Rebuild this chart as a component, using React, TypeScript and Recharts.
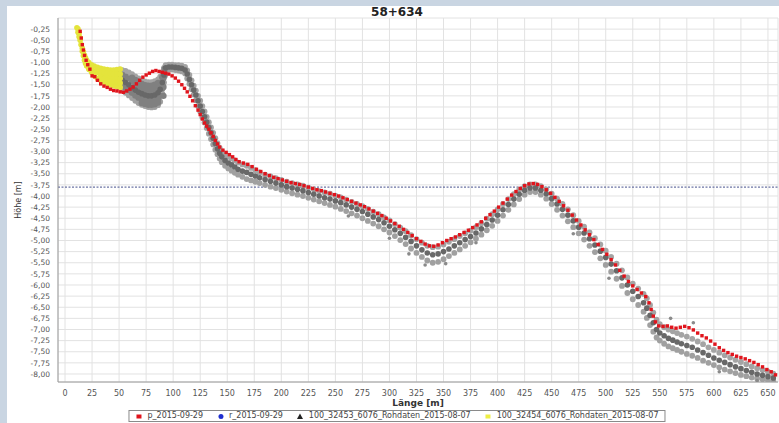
import React from 'react';
import { ScatterChart, Scatter, XAxis, YAxis, CartesianGrid, ReferenceLine } from 'recharts';

const chartTitle = '58+634';
const xLabel = 'Länge [m]';
const yLabel = 'Höhe [m]';
const seriesNames = ['p_2015-09-29', 'r_2015-09-29', '100_32453_6076_Rohdaten_2015-08-07', '100_32454_6076_Rohdaten_2015-08-07'];
const referenceLevel = -3.8;

const xTicks = [0, 25, 50, 75, 100, 125, 150, 175, 200, 225, 250, 275, 300, 325, 350, 375, 400, 425, 450, 475, 500, 525, 550, 575, 600, 625, 650];
const yTicks = [-0.25, -0.5, -0.75, -1, -1.25, -1.5, -1.75, -2, -2.25, -2.5, -2.75, -3, -3.25, -3.5, -3.75, -4, -4.25, -4.5, -4.75, -5, -5.25, -5.5, -5.75, -6, -6.25, -6.5, -6.75, -7, -7.25, -7.5, -7.75, -8];

// p_2015-09-29 (red)
const pPoints: number[][] = [
  [14, -0.3], [15, -0.45], [16, -0.6], [17, -0.72], [18, -0.84], [19.5, -0.95], [21, -1.05], [23, -1.15], [25, -1.3], [27.5, -1.32],
  [30, -1.4], [33, -1.48], [36, -1.53], [39, -1.56], [42, -1.6], [45, -1.63], [48, -1.64], [51, -1.66], [54, -1.67], [57, -1.64],
  [60, -1.6], [63, -1.55], [66, -1.48], [69, -1.4], [72, -1.33], [75, -1.28], [78, -1.24], [81, -1.2], [84, -1.18], [87, -1.2],
  [90, -1.22], [93, -1.24], [96, -1.26], [99, -1.3], [102, -1.35], [105, -1.42], [108, -1.5], [110.5, -1.58], [113, -1.66], [115.5, -1.76],
  [118, -1.86], [120.5, -1.97], [123, -2.07], [125, -2.17], [127, -2.27], [129, -2.36], [131, -2.43], [133, -2.5], [135, -2.58], [137, -2.66],
  [139, -2.75], [141, -2.83], [143, -2.9], [146, -2.97], [149, -3.02], [152, -3.07], [155, -3.12], [158, -3.18], [161, -3.23], [165, -3.26],
  [169, -3.29], [173, -3.34], [177, -3.4], [181, -3.45], [185, -3.5], [189, -3.54], [193, -3.58], [197, -3.61], [201, -3.64], [205, -3.67],
  [209, -3.7], [213, -3.72], [217, -3.74], [221, -3.77], [225, -3.8], [229, -3.83], [233, -3.86], [237, -3.88], [241, -3.91], [245, -3.94],
  [249, -3.97], [253, -4.0], [257, -4.04], [261, -4.08], [265, -4.12], [269, -4.16], [273, -4.2], [277, -4.24], [281, -4.29], [285, -4.34],
  [289, -4.39], [293, -4.44], [297, -4.5], [301, -4.56], [305, -4.62], [309, -4.68], [313, -4.75], [317, -4.82], [321, -4.89], [325, -4.96],
  [329, -5.02], [333, -5.08], [337, -5.12], [341, -5.13], [345, -5.1], [349, -5.05], [353, -5.0], [357, -4.96], [361, -4.92], [365, -4.87],
  [369, -4.82], [373, -4.77], [377, -4.71], [381, -4.65], [385, -4.58], [389, -4.5], [393, -4.42], [397, -4.34], [401, -4.25], [405, -4.16],
  [409, -4.07], [413, -3.98], [417, -3.9], [421, -3.83], [425, -3.77], [429, -3.73], [433, -3.72], [437, -3.74], [441, -3.79], [445, -3.86],
  [449, -3.94], [453, -4.03], [457, -4.12], [461, -4.22], [465, -4.32], [469, -4.43], [473, -4.54], [477, -4.65], [481, -4.76], [485, -4.87],
  [489, -4.98], [493, -5.09], [497, -5.2], [501, -5.31], [505, -5.43], [509, -5.55], [513, -5.67], [517, -5.8], [521, -5.92], [525, -6.02],
  [529, -6.1], [533, -6.18], [537, -6.26], [540, -6.4], [542, -6.55], [544, -6.7], [546, -6.83], [549, -6.92], [553, -6.93], [557, -6.92],
  [561, -6.95], [565, -6.97], [569, -6.95], [573, -6.93], [577, -6.96], [581, -7.01], [585, -7.08], [589, -7.14], [593, -7.19], [597, -7.26],
  [601, -7.33], [605, -7.41], [609, -7.47], [613, -7.52], [617, -7.56], [621, -7.6], [625, -7.63], [629, -7.66], [633, -7.7], [637, -7.74],
  [641, -7.79], [645, -7.84], [649, -7.9], [653, -7.95], [657, -8.02],
];

// r_2015-09-29 (blue) - hidden beneath the other series in the picture
const rPoints: number[][] = [];

// 100_32453_6076_Rohdaten_2015-08-07 (grey cloud), read as upper edge / core / lower edge
const grayX = [50, 53, 56, 59, 62, 65, 68, 71, 74, 77, 80, 83, 86, 88, 90, 91.5, 93, 96, 99, 102, 105, 108, 111, 113, 115, 117, 119, 121, 123, 125, 127, 129, 131, 133, 135, 137, 139, 141, 143, 145, 148, 151, 154, 157, 160, 164, 168, 172, 176, 180, 185, 190, 195, 200, 205, 210, 215, 220, 225, 230, 235, 240, 245, 250, 255, 260, 265, 270, 275, 280, 285, 290, 295, 300, 305, 310, 315, 320, 325, 330, 335, 340, 345, 350, 355, 360, 365, 370, 375, 380, 385, 390, 395, 400, 405, 410, 415, 420, 425, 430, 435, 440, 445, 450, 455, 460, 465, 470, 475, 480, 485, 490, 495, 500, 505, 510, 515, 520, 525, 530, 535, 538, 541, 544, 547, 550, 554, 558, 562, 566, 570, 575, 580, 585, 590, 595, 600, 605, 610, 615, 620, 625, 630, 635, 640, 645, 650, 655];
const grayTop = [-1.16, -1.17, -1.19, -1.22, -1.26, -1.31, -1.36, -1.4, -1.43, -1.44, -1.44, -1.42, -1.38, -1.32, -1.22, -1.12, -1.06, -1.05, -1.05, -1.06, -1.06, -1.07, -1.1, -1.18, -1.28, -1.4, -1.52, -1.63, -1.75, -1.86, -1.98, -2.1, -2.22, -2.34, -2.46, -2.58, -2.7, -2.82, -2.92, -3.0, -3.07, -3.12, -3.16, -3.2, -3.25, -3.29, -3.32, -3.37, -3.42, -3.47, -3.52, -3.56, -3.6, -3.64, -3.68, -3.71, -3.74, -3.77, -3.81, -3.85, -3.89, -3.92, -3.95, -3.99, -4.03, -4.08, -4.13, -4.18, -4.23, -4.29, -4.35, -4.41, -4.48, -4.55, -4.63, -4.71, -4.79, -4.88, -4.97, -5.05, -5.12, -5.15, -5.14, -5.09, -5.03, -4.97, -4.9, -4.84, -4.78, -4.7, -4.61, -4.51, -4.41, -4.3, -4.18, -4.07, -3.96, -3.86, -3.78, -3.74, -3.74, -3.78, -3.85, -3.95, -4.06, -4.18, -4.3, -4.43, -4.56, -4.69, -4.82, -4.95, -5.09, -5.23, -5.37, -5.52, -5.67, -5.83, -5.97, -6.08, -6.2, -6.3, -6.45, -6.62, -6.78, -6.88, -6.95, -7.0, -7.04, -7.08, -7.12, -7.16, -7.21, -7.27, -7.33, -7.4, -7.46, -7.52, -7.58, -7.63, -7.68, -7.73, -7.78, -7.83, -7.87, -7.91, -7.95, -7.99];
const grayMid = [-1.36, -1.4, -1.45, -1.5, -1.56, -1.62, -1.67, -1.7, -1.73, -1.75, -1.75, -1.73, -1.68, -1.6, -1.45, -1.28, -1.12, -1.1, -1.1, -1.11, -1.12, -1.13, -1.17, -1.26, -1.38, -1.5, -1.62, -1.73, -1.86, -1.98, -2.1, -2.22, -2.34, -2.46, -2.58, -2.7, -2.82, -2.94, -3.04, -3.12, -3.2, -3.26, -3.3, -3.35, -3.4, -3.44, -3.47, -3.51, -3.55, -3.59, -3.63, -3.67, -3.71, -3.75, -3.79, -3.82, -3.85, -3.88, -3.92, -3.96, -4.0, -4.04, -4.07, -4.11, -4.15, -4.2, -4.25, -4.3, -4.35, -4.41, -4.47, -4.53, -4.6, -4.68, -4.76, -4.84, -4.93, -5.02, -5.12, -5.21, -5.28, -5.32, -5.3, -5.25, -5.19, -5.12, -5.05, -4.98, -4.91, -4.83, -4.74, -4.64, -4.54, -4.43, -4.31, -4.19, -4.07, -3.96, -3.87, -3.82, -3.82, -3.87, -3.95, -4.06, -4.18, -4.3, -4.43, -4.56, -4.7, -4.83, -4.96, -5.1, -5.24, -5.38, -5.53, -5.68, -5.84, -6.0, -6.14, -6.26, -6.4, -6.52, -6.68, -6.85, -7.0, -7.08, -7.14, -7.2, -7.24, -7.28, -7.32, -7.36, -7.4, -7.46, -7.52, -7.58, -7.64, -7.69, -7.74, -7.79, -7.84, -7.88, -7.92, -7.96, -8.0, -8.03, -8.06, -8.09];
const grayBot = [-1.56, -1.62, -1.68, -1.74, -1.8, -1.86, -1.91, -1.95, -1.98, -2.0, -2.01, -2.0, -1.96, -1.88, -1.7, -1.45, -1.2, -1.16, -1.16, -1.17, -1.18, -1.2, -1.25, -1.36, -1.48, -1.6, -1.72, -1.85, -1.98, -2.1, -2.23, -2.35, -2.47, -2.6, -2.72, -2.84, -2.96, -3.06, -3.16, -3.24, -3.32, -3.38, -3.43, -3.48, -3.52, -3.57, -3.62, -3.65, -3.68, -3.71, -3.75, -3.79, -3.82, -3.86, -3.9, -3.94, -3.97, -4.0, -4.04, -4.08, -4.12, -4.16, -4.2, -4.24, -4.29, -4.34, -4.39, -4.44, -4.5, -4.56, -4.62, -4.68, -4.75, -4.82, -4.9, -4.99, -5.08, -5.18, -5.28, -5.37, -5.45, -5.5, -5.48, -5.42, -5.35, -5.28, -5.2, -5.12, -5.04, -4.96, -4.87, -4.77, -4.67, -4.56, -4.44, -4.31, -4.19, -4.07, -3.97, -3.91, -3.91, -3.97, -4.06, -4.18, -4.31, -4.44, -4.57, -4.7, -4.84, -4.98, -5.12, -5.26, -5.4, -5.55, -5.7, -5.86, -6.02, -6.18, -6.32, -6.45, -6.6, -6.74, -6.9, -7.05, -7.18, -7.25, -7.32, -7.38, -7.42, -7.46, -7.5, -7.55, -7.59, -7.64, -7.7, -7.75, -7.8, -7.85, -7.9, -7.94, -7.98, -8.02, -8.05, -8.08, -8.1, -8.12, -8.14, -8.16];
// extra readings inside the wide grey blob near 50-92 m
const grayBlob: number[][] = [
  [50, -1.26], [53, -1.28], [56, -1.32], [59, -1.36], [62, -1.41], [65, -1.46], [68, -1.51], [71, -1.55], [74, -1.58], [77, -1.6], [80, -1.6], [83, -1.58], [86, -1.53], [88, -1.46], [90, -1.33],
  [50, -1.46], [53, -1.51], [56, -1.56], [59, -1.62], [62, -1.68], [65, -1.74], [68, -1.79], [71, -1.83], [74, -1.86], [77, -1.88], [80, -1.88], [83, -1.87], [86, -1.83], [88, -1.75], [90, -1.58],
  [62, -1.34], [65, -1.39], [68, -1.43], [71, -1.48], [74, -1.51], [77, -1.52], [80, -1.52], [83, -1.5], [86, -1.46],
  [62, -1.62], [65, -1.68], [68, -1.73], [71, -1.77], [74, -1.8], [77, -1.82], [80, -1.82], [83, -1.8], [86, -1.76],
  [65, -1.54], [68, -1.6], [71, -1.63], [74, -1.66], [77, -1.68], [80, -1.68], [83, -1.66], [86, -1.61],
  [71, -1.91], [74, -1.93], [77, -1.95], [80, -1.95], [83, -1.94], [86, -1.9],
  [91, -1.35], [91, -1.55], [91, -1.75], [92, -1.15], [92, -1.3],
];
const grayOutliers: number[][] = [
  [262, -4.45], [300, -4.95], [318, -5.3], [333, -5.55], [352, -5.52], [380, -5.05], [470, -4.85], [503, -5.85], [560, -6.75], [581, -6.85], [605, -7.95], [640, -8.15],
];

// 100_32454_6076_Rohdaten_2015-08-07 (yellow fan at the start)
const yellowPoints: number[][] = [
  [11, -0.22], [12, -0.32], [13, -0.42], [14, -0.5], [15, -0.6], [16, -0.68], [17, -0.76], [18, -0.84], [19, -0.9], [20, -0.95], [22, -1.0], [24.5, -1.05], [27, -1.08], [30, -1.11], [33, -1.13], [36, -1.15], [39, -1.16], [42, -1.17], [45, -1.17], [48, -1.16], [51, -1.15],
  [12, -0.25], [13, -0.35], [14, -0.45], [15, -0.6], [16, -0.75], [17, -0.85], [18, -0.95], [19, -1.02], [20, -1.08], [22, -1.15], [24.5, -1.22], [27, -1.3], [30, -1.36], [33, -1.4], [36, -1.44], [39, -1.47], [42, -1.5], [45, -1.52], [48, -1.54], [51, -1.56],
  [22, -1.08], [24.5, -1.13], [27, -1.19], [30, -1.23], [33, -1.27], [36, -1.3], [39, -1.32], [42, -1.34], [45, -1.35], [48, -1.36], [51, -1.36],
  [33, -1.2], [36, -1.22], [39, -1.24], [42, -1.25], [45, -1.26], [48, -1.26], [51, -1.26],
  [33, -1.33], [36, -1.37], [39, -1.4], [42, -1.42], [45, -1.44], [48, -1.45], [51, -1.46],
];

const toPts = (a: number[][]) => a.map(([x, y]) => ({ x, y }));
const rows = (ys: number[]) => grayX.map((x, i) => ({ x, y: ys[i] }));

const FONT = '"DejaVu Sans", Verdana, sans-serif';

const dot = (fill: string, r: number) => (p: any) => (
  <circle cx={p.cx} cy={p.cy} r={r} fill={fill} />
);
const square = (fill: string, s: number) => (p: any) => (
  <rect x={p.cx - s / 2} y={p.cy - s / 2} width={s} height={s} fill={fill} />
);

const legendItems = [
  { name: seriesNames[0], color: '#e0141c', kind: 'square' },
  { name: seriesNames[1], color: '#1f2fd0', kind: 'circle' },
  { name: seriesNames[2], color: '#222222', kind: 'triangle' },
  { name: seriesNames[3], color: '#eeee44', kind: 'square' },
];

const LegendSymbol = ({ kind, color }: { kind: string; color: string }) => (
  <svg width={7} height={7} style={{ marginRight: 5 }}>
    {kind === 'square' && <rect x={1} y={1.5} width={5} height={4} fill={color} />}
    {kind === 'circle' && <circle cx={3.5} cy={3.5} r={2.5} fill={color} />}
    {kind === 'triangle' && <polygon points="3.5,0.5 6.5,6 0.5,6" fill={color} />}
  </svg>
);

export default function App() {
  return (
    <div style={{ position: 'absolute', left: 0, top: 0, width: 779, height: 423, background: '#c9d5e2', overflow: 'hidden' }}>
      <div style={{ position: 'absolute', left: 7, top: 6, width: 772, height: 417, background: '#ffffff' }} />
      <div style={{ position: 'absolute', left: 0, width: 794, top: 6, textAlign: 'center', fontFamily: FONT, fontWeight: 'bold', fontSize: 12, color: '#222', lineHeight: '13px' }}>
        {chartTitle}
      </div>
      <div style={{ position: 'absolute', left: 0, top: 0 }}>
        <ScatterChart width={779} height={423} margin={{ top: 18, right: 1, left: 8, bottom: 13 }}>
          <CartesianGrid stroke="#e2e2e2" strokeWidth={1} />
          <XAxis
            type="number"
            dataKey="x"
            domain={[-6.5, 659.3]}
            ticks={xTicks}
            interval={0}
            allowDataOverflow
            tickLine={false}
            height={28}
            axisLine={{ stroke: '#9a9a9a' }}
            tick={{ fontSize: 8, fontFamily: FONT, fill: '#555' }}
            label={{ value: xLabel, position: 'insideBottom', offset: 4, style: { fontSize: 9, fontFamily: FONT, fontWeight: 'bold', fill: '#333' } }}
          />
          <YAxis
            type="number"
            dataKey="y"
            domain={[-8.18, 0]}
            ticks={yTicks}
            interval={0}
            allowDataOverflow
            tickLine={false}
            width={50}
            axisLine={{ stroke: '#9a9a9a' }}
            tickFormatter={(v: number) => v.toFixed(2).replace('.', ',')}
            tick={{ fontSize: 7.5, fontFamily: FONT, fill: '#555' }}
            label={{ value: yLabel, angle: -90, position: 'insideLeft', offset: 10, style: { textAnchor: 'middle', fontSize: 8, fontFamily: FONT, fill: '#333' } }}
          />
          <ReferenceLine y={referenceLevel} stroke="#45508c" strokeDasharray="2 1.5" strokeWidth={1} />
          <Scatter name={seriesNames[2]} data={rows(grayTop)} shape={dot('#a4a4a4', 2.9)} isAnimationActive={false} />
          <Scatter name={seriesNames[2]} data={rows(grayBot)} shape={dot('#a0a0a0', 2.9)} isAnimationActive={false} />
          <Scatter name={seriesNames[2]} data={toPts(grayBlob)} shape={dot('#808080', 3.2)} isAnimationActive={false} />
          <Scatter name={seriesNames[2]} data={rows(grayMid)} shape={dot('#686868', 2.8)} isAnimationActive={false} />
          <Scatter name={seriesNames[2]} data={toPts(grayOutliers)} shape={dot('#8a8a8a', 1.8)} isAnimationActive={false} />
          <Scatter name={seriesNames[3]} data={toPts(yellowPoints)} shape={dot('#e4e43c', 2.8)} isAnimationActive={false} />
          <Scatter name={seriesNames[1]} data={toPts(rPoints)} shape={dot('#1f2fd0', 2)} isAnimationActive={false} />
          <Scatter name={seriesNames[0]} data={toPts(pPoints)} shape={square('#e0141c', 3.4)} isAnimationActive={false} />
        </ScatterChart>
      </div>
      <div style={{ position: 'absolute', left: 397, top: 410, transform: 'translateX(-50%)', border: '1px solid #8a8a8a', background: '#fff', padding: '0 6px', display: 'flex', alignItems: 'center', whiteSpace: 'nowrap', fontFamily: FONT, fontSize: 8, lineHeight: '10px', color: '#444' }}>
        {legendItems.map((it, i) => (
          <span key={i} style={{ display: 'inline-flex', alignItems: 'center', marginRight: i < legendItems.length - 1 ? 14 : 0 }}>
            <LegendSymbol kind={it.kind} color={it.color} />
            {it.name}
          </span>
        ))}
      </div>
    </div>
  );
}
